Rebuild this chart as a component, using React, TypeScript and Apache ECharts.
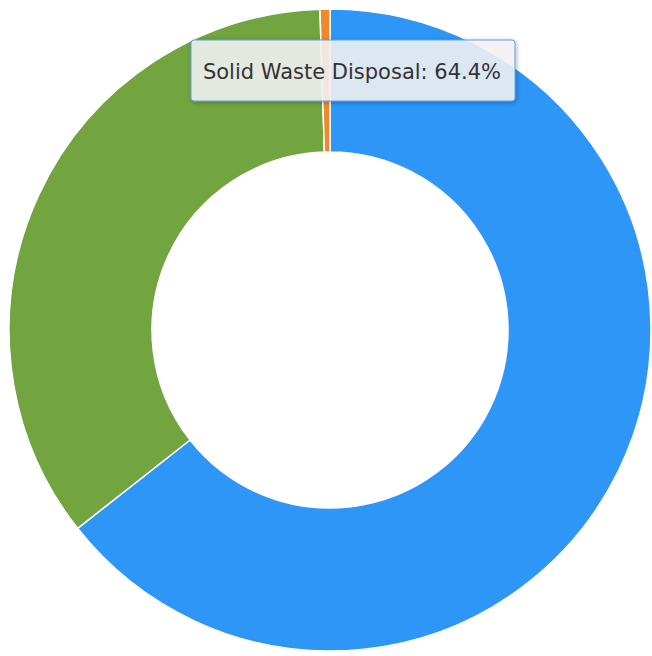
import React, { useEffect, useRef } from "react";
import * as echarts from "echarts";

const categories = ["Solid Waste Disposal", "Recycling", "Composting"];
const values = [64.4, 35.1, 0.5];
const colors = ["#2d96f7", "#72a43f", "#f0882c"];
const tooltipText = "Solid Waste Disposal: 64.4%";

export default function App() {
  const ref = useRef<HTMLDivElement>(null);
  useEffect(() => {
    document.body.style.margin = "0";
    const chart = echarts.init(ref.current!, null, { renderer: "svg" });
    chart.setOption({
      animation: false,
      backgroundColor: "#ffffff",
      series: [
        {
          type: "pie",
          center: [330, 330],
          radius: [178, 321],
          startAngle: 90,
          clockwise: true,
          label: { show: false },
          labelLine: { show: false },
          itemStyle: { borderColor: "#ffffff", borderWidth: 1.5 },
          emphasis: { disabled: true },
          data: categories.map((c, i) => ({
            name: c,
            value: values[i],
            itemStyle: { color: colors[i] },
          })),
        },
      ],
      graphic: [
        {
          type: "rect",
          shape: { x: 191, y: 40, width: 324, height: 61, r: 3 },
          style: {
            fill: "rgba(246,246,246,0.86)",
            stroke: "#5fa3e6",
            lineWidth: 1,
            shadowBlur: 4,
            shadowColor: "rgba(0,0,0,0.35)",
            shadowOffsetX: 1,
            shadowOffsetY: 1,
          },
          z: 10,
        },
        {
          type: "text",
          x: 352,
          y: 72,
          style: {
            text: tooltipText,
            fill: "#333333",
            font: "21px 'DejaVu Sans', sans-serif",
            align: "center",
            verticalAlign: "middle",
          },
          z: 11,
        },
      ],
    });
    return () => chart.dispose();
  }, []);
  return <div ref={ref} style={{ width: 652, height: 656 }} />;
}
